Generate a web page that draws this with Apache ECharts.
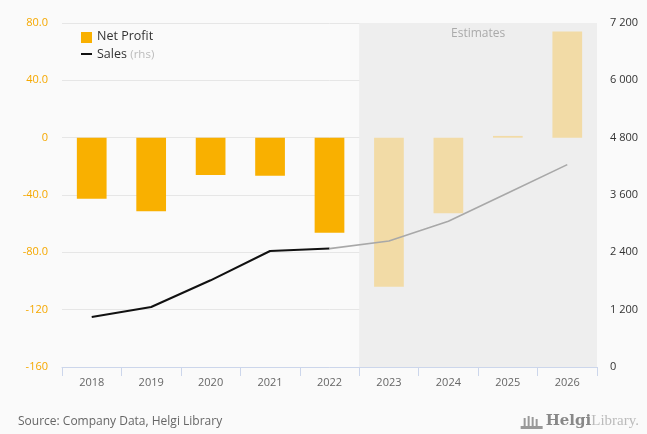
<!DOCTYPE html>
<html>
<head>
<meta charset="utf-8">
<script src="https://cdn.jsdelivr.net/npm/echarts@6/dist/echarts.min.js"></script>
<style>
  html, body { margin: 0; padding: 0; background: #fafafa; }
  #chart { width: 647px; height: 434px; }
</style>
</head>
<body>
<div id="chart"></div>
<script>
// Years on the category axis
const years = ['2018', '2019', '2020', '2021', '2022', '2023', '2024', '2025', '2026'];
// Net profit (left axis); from 2023 on the figures are estimates
const netProfit = [-42.6, -51.4, -26.0, -26.5, -66.3, -104.0, -52.8, 1.2, 74.0];
// Sales (right axis)
const sales = [1047, 1256, 1815, 2428, 2478, 2637, 3050, 3642, 4236];
// Index of the first estimated year
const firstEstimate = 5;
// Axis tick labels
const leftTicks = { '80': '80.0', '40': '40.0', '0': '0', '-40': '-40.0', '-80': '-80.0', '-120': '-120', '-160': '-160' };
const rightTicks = { '0': '0', '1200': '1 200', '2400': '2 400', '3600': '3 600', '4800': '4 800', '6000': '6 000', '7200': '7 200' };

const FONT = '"Open Sans", "Noto Sans", sans-serif';
const ACTUAL_BAR = '#f9b000';
const EST_BAR = '#f2dba6';

const barData = netProfit.map((v, i) => ({
  value: v,
  itemStyle: { color: i < firstEstimate ? ACTUAL_BAR : EST_BAR }
}));
const salesActual = sales.map((v, i) => (i < firstEstimate ? v : '-'));
const salesEstimate = sales.map((v, i) => (i >= firstEstimate - 1 ? v : '-'));

const chart = echarts.init(document.getElementById('chart'), null, { renderer: 'canvas' });

chart.setOption({
  backgroundColor: '#fafafa',
  animation: false,
  textStyle: { fontFamily: FONT },
  grid: { left: 62, right: 50, top: 23, bottom: 67 },
  xAxis: [
    {
      type: 'category',
      data: years,
      axisLine: { onZero: false, lineStyle: { color: '#ccd6eb', width: 1 } },
      axisTick: { show: true, length: 9, lineStyle: { color: '#ccd6eb' } },
      axisLabel: { color: '#666', fontSize: 11, margin: 10, fontFamily: FONT },
      splitLine: { show: false }
    },
    {
      // helper axis spanning the grid, used for the estimates band
      type: 'value',
      min: 0,
      max: years.length,
      show: false
    }
  ],
  yAxis: [
    {
      type: 'value',
      min: -160,
      max: 80,
      interval: 40,
      axisLine: { show: false },
      axisTick: { show: false },
      axisLabel: {
        color: '#f5a800',
        fontSize: 11,
        margin: 14,
        fontFamily: FONT,
        formatter: v => leftTicks[String(v)] ?? String(v)
      },
      splitLine: { lineStyle: { color: '#e6e6e6', width: 1 } }
    },
    {
      type: 'value',
      min: 0,
      max: 7200,
      interval: 1200,
      axisLine: { show: false },
      axisTick: { show: false },
      axisLabel: {
        color: '#333',
        fontSize: 11,
        margin: 13,
        fontFamily: FONT,
        formatter: v => rightTicks[String(v)] ?? String(v)
      },
      splitLine: { show: false }
    }
  ],
  series: [
    {
      name: 'Estimates band',
      type: 'line',
      xAxisIndex: 1,
      yAxisIndex: 0,
      data: [],
      silent: true,
      z: 0,
      markArea: {
        silent: true,
        itemStyle: { color: '#eeeeee' },
        label: {
          show: true,
          position: 'insideTop',
          distance: 5,
          color: '#aaaaaa',
          fontSize: 12,
          fontFamily: FONT
        },
        data: [[{ name: 'Estimates', xAxis: firstEstimate }, { xAxis: years.length }]]
      }
    },
    {
      name: 'Net Profit',
      type: 'bar',
      xAxisIndex: 0,
      yAxisIndex: 0,
      barWidth: '50%',
      data: barData,
      z: 2
    },
    {
      name: 'Sales',
      type: 'line',
      xAxisIndex: 0,
      yAxisIndex: 1,
      data: salesActual,
      symbol: 'none',
      lineStyle: { color: '#111', width: 2 },
      z: 3
    },
    {
      name: 'Sales estimate',
      type: 'line',
      xAxisIndex: 0,
      yAxisIndex: 1,
      data: salesEstimate,
      symbol: 'none',
      lineStyle: { color: '#a8a8a8', width: 1.6 },
      z: 3
    }
  ],
  graphic: [
    // legend
    { type: 'rect', left: 81, top: 32, shape: { width: 11, height: 11 }, style: { fill: ACTUAL_BAR } },
    { type: 'text', left: 97, top: 30, style: { text: 'Net Profit', fill: '#333', font: '12.5px ' + FONT } },
    { type: 'rect', left: 81, top: 53, shape: { width: 11, height: 2 }, style: { fill: '#111' } },
    {
      type: 'text', left: 97, top: 48,
      style: {
        text: '{a|Sales} {b|(rhs)}',
        rich: {
          a: { fill: '#333', font: '12.5px ' + FONT },
          b: { fill: '#bbbbbb', font: '11.5px ' + FONT }
        }
      }
    },
    // footer
    { type: 'text', left: 18, top: 416, style: { text: 'Source: Company Data, Helgi Library', fill: '#666', font: '12px ' + FONT } },
    {
      type: 'group', right: 8, top: 414,
      children: [
        { type: 'rect', left: 0, top: 12, shape: { width: 22, height: 3 }, style: { fill: '#999' } },
        { type: 'rect', left: 3, top: 4, shape: { width: 2, height: 8 }, style: { fill: '#999' } },
        { type: 'rect', left: 7, top: 2, shape: { width: 2, height: 10 }, style: { fill: '#999' } },
        { type: 'rect', left: 11, top: 3, shape: { width: 2, height: 9 }, style: { fill: '#999' } },
        { type: 'rect', left: 15, top: 5, shape: { width: 2, height: 7 }, style: { fill: '#999' } },
        {
          type: 'text', left: 25, top: 0,
          style: {
            text: '{h|Helgi}{l|Library.}',
            rich: {
              h: { fill: '#888', font: 'bold 15px "DejaVu Serif", serif' },
              l: { fill: '#bbb', font: '15px "Liberation Serif", serif' }
            }
          }
        }
      ]
    }
  ]
});
</script>
</body>
</html>
